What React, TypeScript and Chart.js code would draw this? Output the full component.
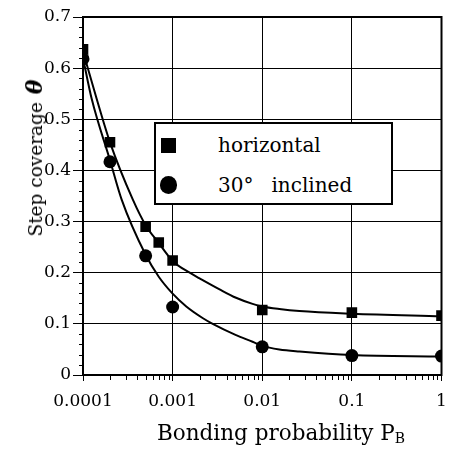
import React, { useEffect, useRef } from "react";
import { Chart, registerables } from "chart.js";

Chart.register(...registerables);

// ---- data ----
const X_TICKS = [0.0001, 0.001, 0.01, 0.1, 1];
const X_TICK_LABELS = ["0.0001", "0.001", "0.01", "0.1", "1"];
const Y_TICK_LABELS = ["0", "0.1", "0.2", "0.3", "0.4", "0.5", "0.6", "0.7"];

const horizontalX = [0.0001, 0.0002, 0.0005, 0.0007, 0.001, 0.01, 0.1, 1];
const horizontalY = [0.637, 0.455, 0.29, 0.259, 0.224, 0.127, 0.122, 0.116];

const inclinedX = [0.0001, 0.0002, 0.0005, 0.001, 0.01, 0.1, 1];
const inclinedY = [0.618, 0.417, 0.233, 0.133, 0.055, 0.038, 0.037];

// fitted curves
const horizontalFitX = [0.0001, 0.000142, 0.0002, 0.00036, 0.0005, 0.0007, 0.001, 0.00155, 0.002, 0.0033, 0.0051, 0.0078, 0.01, 0.0155, 0.026, 0.1, 1];
const horizontalFitY = [0.633, 0.54, 0.455, 0.343, 0.293, 0.258, 0.223, 0.2, 0.189, 0.168, 0.151, 0.139, 0.134, 0.129, 0.125, 0.12, 0.115];

const inclinedFitX = [0.0001, 0.000125, 0.0002, 0.00027, 0.0005, 0.0007, 0.001, 0.00142, 0.00218, 0.0028, 0.0051, 0.0078, 0.01, 0.0155, 0.026, 0.1, 1];
const inclinedFitY = [0.62, 0.54, 0.42, 0.343, 0.235, 0.192, 0.159, 0.134, 0.111, 0.1, 0.078, 0.065, 0.057, 0.05, 0.046, 0.039, 0.036];

const SERIF = "'DejaVu Serif', serif";

const pts = (xs: number[], ys: number[]) => xs.map((x, i) => ({ x, y: ys[i] }));

const framePlugin = {
  id: "frameAndMinor",
  afterDraw(chart: any) {
    const { ctx, chartArea, scales } = chart;
    const xs = scales.x;
    const ys = scales.y;
    ctx.save();
    ctx.strokeStyle = "#000";
    ctx.lineWidth = 1;
    // y minor ticks every 0.02
    for (let k = 1; k < 35; k++) {
      if (k % 5 === 0) continue;
      const py = Math.round(ys.getPixelForValue(k * 0.02)) + 0.5;
      ctx.beginPath();
      ctx.moveTo(chartArea.left - 4, py);
      ctx.lineTo(chartArea.left, py);
      ctx.stroke();
    }
    // x minor ticks 2..9 per decade
    for (let d = -4; d < 0; d++) {
      for (let m = 2; m <= 9; m++) {
        const px = Math.round(xs.getPixelForValue(m * Math.pow(10, d))) + 0.5;
        ctx.beginPath();
        ctx.moveTo(px, chartArea.bottom);
        ctx.lineTo(px, chartArea.bottom + 5);
        ctx.stroke();
      }
    }
    ctx.lineWidth = 2;
    ctx.strokeRect(chartArea.left, chartArea.top, chartArea.right - chartArea.left, chartArea.bottom - chartArea.top);
    ctx.restore();
  },
};

export default function App() {
  const ref = useRef<HTMLCanvasElement | null>(null);

  useEffect(() => {
    const canvas = ref.current;
    if (!canvas) return;
    const chart = new Chart(canvas, {
      type: "scatter",
      data: {
        datasets: [
          {
            label: "horizontal",
            data: pts(horizontalX, horizontalY),
            pointStyle: "rect",
            pointRadius: 7.5,
            backgroundColor: "#000",
            borderColor: "#000",
            borderWidth: 0,
            showLine: false,
            clip: 0,
            order: 0,
          },
          {
            label: "30° inclined",
            data: pts(inclinedX, inclinedY),
            pointStyle: "circle",
            pointRadius: 6.5,
            backgroundColor: "#000",
            borderColor: "#000",
            borderWidth: 0,
            showLine: false,
            clip: 0,
            order: 0,
          },
          {
            label: "fit horizontal",
            data: pts(horizontalFitX, horizontalFitY),
            showLine: true,
            pointRadius: 0,
            borderColor: "#000",
            borderWidth: 2,
            cubicInterpolationMode: "monotone",
            clip: 0,
            order: 1,
          },
          {
            label: "fit inclined",
            data: pts(inclinedFitX, inclinedFitY),
            showLine: true,
            pointRadius: 0,
            borderColor: "#000",
            borderWidth: 2,
            cubicInterpolationMode: "monotone",
            clip: 0,
            order: 1,
          },
        ] as any,
      },
      options: {
        animation: false,
        responsive: false,
        events: [],
        layout: { padding: { top: 17, right: 6, left: 0, bottom: 0 } },
        plugins: { legend: { display: false }, tooltip: { enabled: false } },
        scales: {
          x: {
            type: "logarithmic",
            min: 0.0001,
            max: 1,
            afterBuildTicks: (scale: any) => {
              scale.ticks = X_TICKS.map((v) => ({ value: v }));
            },
            afterFit: (scale: any) => {
              scale.height = 74;
              scale.paddingLeft = 0;
              scale.paddingRight = 0;
            },
            ticks: {
              color: "#000",
              font: { family: SERIF, size: 17 },
              padding: 10,
              maxRotation: 0,
              autoSkip: false,
              callback: (v: any) => {
                const i = X_TICKS.findIndex((t) => Math.abs(t - Number(v)) / t < 1e-6);
                return i >= 0 ? X_TICK_LABELS[i] : "";
              },
            },
            grid: { color: "#000", lineWidth: 1, tickLength: 6, tickColor: "#000" },
            border: { display: true, color: "#000", width: 2 },
          },
          y: {
            type: "linear",
            min: 0,
            max: 0.7,
            afterBuildTicks: (scale: any) => {
              scale.ticks = Y_TICK_LABELS.map((s) => ({ value: Number(s) }));
            },
            afterFit: (scale: any) => {
              scale.width = 83;
              scale.paddingTop = 0;
              scale.paddingBottom = 0;
            },
            ticks: {
              color: "#000",
              font: { family: SERIF, size: 17 },
              padding: 2,
              callback: (v: any) => {
                const i = Y_TICK_LABELS.findIndex((s) => Math.abs(Number(s) - Number(v)) < 1e-6);
                return i >= 0 ? Y_TICK_LABELS[i] : "";
              },
            },
            grid: { color: "#000", lineWidth: 1, tickLength: 10, tickColor: "#000" },
            border: { display: true, color: "#000", width: 2 },
          },
        },
      } as any,
      plugins: [framePlugin],
    });
    return () => chart.destroy();
  }, []);

  return (
    <div style={{ position: "fixed", left: 0, top: 0, width: 449, height: 449, background: "#fff", fontFamily: SERIF, color: "#000" }}>
      <canvas ref={ref} width={449} height={449} style={{ position: "absolute", left: 0, top: 0 }} />
      {/* y-axis title */}
      <div
        style={{
          position: "absolute",
          left: 35,
          top: 158,
          transform: "translate(-50%, -50%) rotate(-90deg)",
          whiteSpace: "nowrap",
          fontSize: 18.5,
          lineHeight: "24px",
        }}
      >
        Step coverage
        <span style={{ fontStyle: "italic", fontWeight: "bold", fontSize: 22, marginLeft: 8 }}>θ</span>
      </div>
      {/* x-axis title */}
      <div style={{ position: "absolute", left: 157, top: 420, whiteSpace: "nowrap", fontSize: 21.5, lineHeight: "25px" }}>
        Bonding probability P<span style={{ fontSize: 14, position: "relative", top: 3 }}>B</span>
      </div>
      {/* legend */}
      <div
        style={{
          position: "absolute",
          left: 154,
          top: 122,
          width: 239,
          height: 83,
          boxSizing: "border-box",
          border: "2px solid #000",
          background: "#fff",
        }}
      >
        <div style={{ position: "absolute", left: 5, top: 14, width: 15, height: 15, background: "#000" }} />
        <div style={{ position: "absolute", left: 3.5, top: 52, width: 17.5, height: 17.5, borderRadius: "50%", background: "#000" }} />
        <div style={{ position: "absolute", left: 62, top: 9, fontSize: 20, lineHeight: "24px", whiteSpace: "nowrap" }}>horizontal</div>
        <div style={{ position: "absolute", left: 62, top: 49, fontSize: 20, lineHeight: "24px", whiteSpace: "nowrap" }}>
          30°<span style={{ marginLeft: 18 }}>inclined</span>
        </div>
      </div>
    </div>
  );
}
